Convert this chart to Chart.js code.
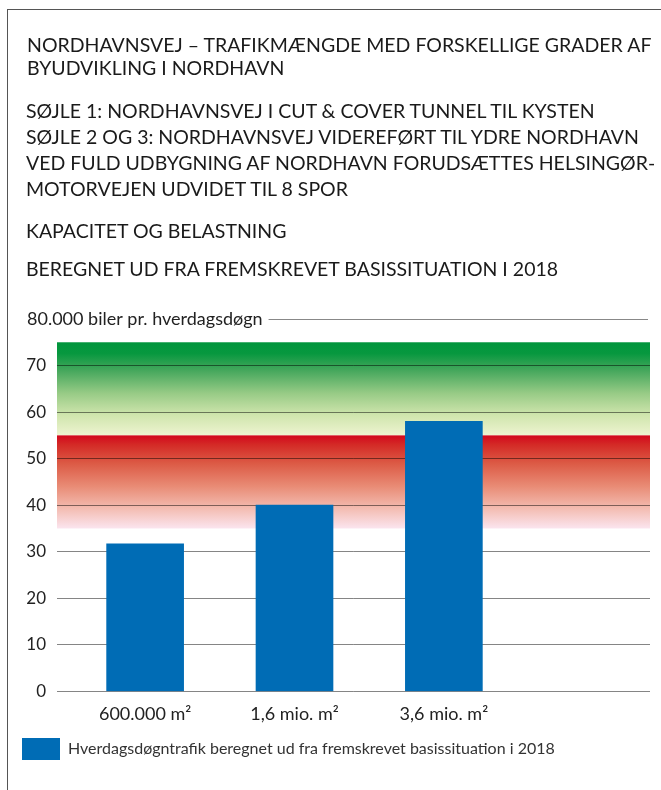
<!DOCTYPE html>
<html>
<head>
<meta charset="utf-8">
<script src="https://cdn.jsdelivr.net/npm/chart.js@4/dist/chart.umd.min.js"></script>
<style>
    html, body { margin: 0; padding: 0; background: #fff; }
    #wrap { position: relative; width: 661px; height: 790px; overflow: hidden; font-family: Lato, sans-serif; color: #1a1a1a; }
    #frame { position: absolute; left: 7px; top: 9px; width: 700px; height: 900px; border: 1px solid #555; }
    #chart { position: absolute; left: 0; top: 0; }
    .h { position: absolute; left: 26px; white-space: nowrap; font-size: 19.5px; line-height: 22px; }
</style>
</head>
<body>
<div id="wrap">
    <div id="frame"></div>
    <canvas id="chart" width="661" height="790"></canvas>
    <div class="h" style="top:34px;left:27px">NORDHAVNSVEJ – TRAFIKMÆNGDE MED FORSKELLIGE GRADER AF</div>
    <div class="h" style="top:57px;left:27px">BYUDVIKLING I NORDHAVN</div>
    <div class="h" style="top:100px">SØJLE 1: NORDHAVNSVEJ I CUT &amp; COVER TUNNEL TIL KYSTEN</div>
    <div class="h" style="top:126px">SØJLE 2 OG 3: NORDHAVNSVEJ VIDEREFØRT TIL YDRE NORDHAVN</div>
    <div class="h" style="top:152px">VED FULD UDBYGNING AF NORDHAVN FORUDSÆTTES HELSINGØR-</div>
    <div class="h" style="top:178px">MOTORVEJEN UDVIDET TIL 8 SPOR</div>
    <div class="h" style="top:220px">KAPACITET OG BELASTNING</div>
    <div class="h" style="top:258px">BEREGNET UD FRA FREMSKREVET BASISSITUATION I 2018</div>
</div>
<script>
// data
const categories = ["600.000 m²", "1,6 mio. m²", "3,6 mio. m²"];
const traffic = [31.7, 40, 58];
const seriesLabel = "Hverdagsdøgntrafik beregnet ud fra fremskrevet basissituation i 2018";
const yMax = 80;
const yStep = 10;
const topLabel = "80.000 biler pr. hverdagsdøgn";
const capacityBand = [55, 75];   // green
const loadBand = [35, 55];       // red

const FONT = "Lato, sans-serif";

// coloured bands behind the grid, plus the 80.000 label line
const bandsPlugin = {
    id: "bands",
    beforeDraw(chart) {
        const { ctx, chartArea: a, scales: { y } } = chart;
        const paint = (band, stops) => {
            const top = y.getPixelForValue(band[1]);
            const bottom = y.getPixelForValue(band[0]);
            const g = ctx.createLinearGradient(0, top, 0, bottom);
            stops.forEach(([p, c]) => g.addColorStop(p, c));
            ctx.fillStyle = g;
            ctx.fillRect(a.left, top, a.right - a.left, bottom - top);
        };
        ctx.save();
        paint(capacityBand, [[0, "#00953c"], [0.12, "#07983f"], [0.3, "#44a75c"], [0.55, "#98cb86"], [0.78, "#cfe5ad"], [1, "#eef4d0"]]);
        paint(loadBand, [[0, "#d2071c"], [0.1, "#d42a26"], [0.3, "#dc5a45"], [0.55, "#e98c76"], [0.78, "#f3bbb0"], [1, "#fbe5ef"]]);
        ctx.restore();
    },
    afterDraw(chart) {
        const { ctx, chartArea: a, scales: { y } } = chart;
        const py = y.getPixelForValue(yMax);
        ctx.save();
        ctx.font = "18px " + FONT;
        ctx.fillStyle = "#222";
        ctx.textAlign = "left";
        ctx.textBaseline = "middle";
        const x0 = y.left + 6;
        ctx.fillText(topLabel, x0, py);
        const w = ctx.measureText(topLabel).width;
        ctx.strokeStyle = "#888";
        ctx.lineWidth = 1;
        ctx.beginPath();
        ctx.moveTo(x0 + w + 6, Math.round(py) + 0.5);
        ctx.lineTo(a.right - 2, Math.round(py) + 0.5);
        ctx.stroke();
        ctx.restore();
    }
};

new Chart(document.getElementById("chart"), {
    type: "bar",
    data: {
        datasets: [{
            label: seriesLabel,
            data: traffic.map((v, i) => ({ x: i, y: v })),
            backgroundColor: "#006cb5",
            barThickness: 77,
        }],
    },
    options: {
        responsive: false,
        animation: false,
        layout: { padding: { left: 21, right: 11, top: 319, bottom: 20 } },
        plugins: {
            tooltip: { enabled: false },
            legend: {
                position: "bottom",
                align: "start",
                labels: { boxWidth: 38, boxHeight: 22, padding: 1, color: "#333", font: { family: FONT, size: 16 } },
            },
        },
        scales: {
            x: {
                type: "linear",
                offset: false,
                min: -0.59,
                max: 3.38,
                grid: { display: false, drawTicks: false },
                border: { display: false },
                afterBuildTicks: s => { s.ticks = categories.map((c, i) => ({ value: i })); },
                ticks: {
                    callback: v => categories[v],
                    padding: 12,
                    color: "#222",
                    maxRotation: 0,
                    autoSkip: false,
                    font: { family: FONT, size: 18 },
                },
            },
            y: {
                min: 0,
                max: yMax,
                afterFit: s => { s.width = 36; },
                border: { display: false },
                grid: {
                    drawTicks: false,
                    color: c => (c.tick && c.tick.value === yMax) ? "rgba(0,0,0,0)" : "rgba(0,0,0,0.48)",
                },
                ticks: {
                    stepSize: yStep,
                    padding: 11,
                    color: "#222",
                    font: { family: FONT, size: 17 },
                    callback: v => v === yMax ? "" : v,
                },
            },
        },
    },
    plugins: [bandsPlugin],
});
</script>
</body>
</html>
